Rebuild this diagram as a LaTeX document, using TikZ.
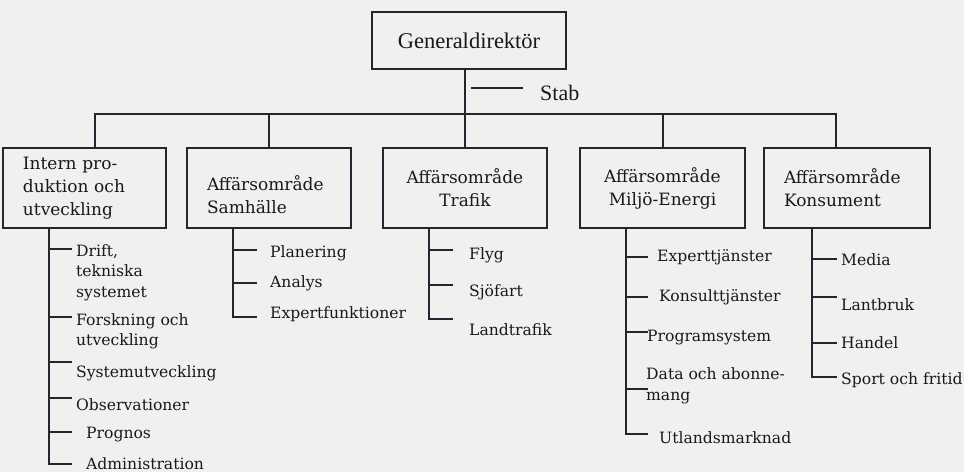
\documentclass[tikz,border=0pt]{standalone}
\usepackage{fontspec}
\setmainfont{DejaVu Serif}
\newfontfamily\genfont{Liberation Serif}
\definecolor{ink}{HTML}{2A2230}
\definecolor{txt}{HTML}{1C161F}
\definecolor{paper}{HTML}{F0F0EE}
\begin{document}
\begin{tikzpicture}[x=1pt,y=-1pt,
  every node/.style={text=txt},
  ln/.style={draw=ink,line width=2pt},
  topbox/.style={draw=ink,line width=2pt,rectangle,minimum width=194pt,minimum height=57pt,inner sep=0pt,font=\genfont\fontsize{22.5}{24}\selectfont},
  unitbox/.style={draw=ink,line width=2pt,rectangle,minimum height=80pt,inner xsep=20pt,inner ysep=0pt,font=\fontsize{17}{23}\selectfont},
  item/.style={anchor=west,inner sep=0pt,align=left,font=\fontsize{15.6}{20.5}\selectfont},
  stabtxt/.style={anchor=west,inner sep=0pt,font=\genfont\fontsize{22}{24}\selectfont}]
\fill[paper] (0,0) rectangle (964,472);
\useasboundingbox (0,0) rectangle (964,472);

% top
\node[topbox] (gen) at (469,40.5) {Generaldirektör};
\node[stabtxt] (stab) at (540,93) {Stab};
\coordinate (stabL) at (471,88);
\coordinate (stabR) at (523,88);
\draw[ln] (stabL) -- (stabR);

% units
\node[unitbox,minimum width=163pt,text width=123pt,align=left] (intern) at (84.5,188) {Intern pro-\\duktion och\\utveckling};
\node[unitbox,minimum width=162pt,text width=124pt,align=left] (samh) at (269,188) {\rule{0pt}{28pt}Affärsområde\\Samhälle};
\node[unitbox,minimum width=162pt,text width=124pt,align=center] (traf) at (465,188) {Affärsområde\\Trafik};
\node[unitbox,minimum width=163pt,text width=125pt,align=center] (milj) at (662.5,188) {Affärsområde\\Miljö-Energi};
\node[unitbox,minimum width=164pt,text width=126pt,align=left] (kons) at (847,188) {Affärsområde\\Konsument};

% bus
\coordinate (busL) at (95,114);
\coordinate (busR) at (836,114);
\draw[ln] (traf.north |- gen.south) -- (traf.north);
\draw[ln] (busL |- intern.north) -- (busL) -- (busR) -- (busR |- kons.north);
\draw[ln] (samh.north |- busL) -- (samh.north);
\draw[ln] (milj.north |- busL) -- (milj.north);

% Intern column
\node[item] (i1) at (76,272.5) {Drift,\\tekniska\\systemet};
\node[item] (i2) at (76,331.5) {Forskning och\\utveckling};
\node[item] (i3) at (76,373) {Systemutveckling};
\node[item] (i4) at (76,405) {Observationer};
\node[item] (i5) at (86,435) {Prognos};
\node[item] (i6) at (86,464) {Administration};
\coordinate (ib1) at (49,249);
\coordinate (ib2) at (49,317);
\coordinate (ib3) at (49,362);
\coordinate (ib4) at (49,398);
\coordinate (ib5) at (49,432);
\coordinate (ib6) at (49,464);
\draw[ln] (ib1 |- intern.south) -- (ib6) -- ++(23,0);
\foreach \c in {ib1,ib2,ib3,ib4,ib5} \draw[ln] (\c) -- ++(23,0);

% Samhalle column
\node[item] (s1) at (270,253) {Planering};
\node[item] (s2) at (270,283) {Analys};
\node[item] (s3) at (270,314) {Expertfunktioner};
\coordinate (sb1) at (233,250);
\coordinate (sb2) at (233,283);
\coordinate (sb3) at (233,317);
\draw[ln] (sb1 |- samh.south) -- (sb3) -- ++(24,0);
\foreach \c in {sb1,sb2} \draw[ln] (\c) -- ++(24,0);

% Trafik column
\node[item] (t1) at (469,255) {Flyg};
\node[item] (t2) at (469,292) {Sjöfart};
\node[item] (t3) at (469,330) {Landtrafik};
\coordinate (tb1) at (429,250);
\coordinate (tb2) at (429,285);
\coordinate (tb3) at (429,319);
\draw[ln] (tb1 |- traf.south) -- (tb3) -- ++(24,0);
\foreach \c in {tb1,tb2} \draw[ln] (\c) -- ++(24,0);

% Miljo column
\node[item] (m1) at (657,257) {Experttjänster};
\node[item] (m2) at (659,297) {Konsulttjänster};
\node[item] (m3) at (647,338) {Programsystem};
\node[item] (m4) at (646,386) {Data och abonne-\\mang};
\node[item] (m5) at (659,438) {Utlandsmarknad};
\coordinate (mb1) at (626,257);
\coordinate (mb2) at (626,297);
\coordinate (mb3) at (626,332);
\coordinate (mb4) at (626,389);
\coordinate (mb5) at (626,434);
\draw[ln] (mb1 |- milj.south) -- (mb5) -- ++(22,0);
\foreach \c in {mb1,mb2,mb3,mb4} \draw[ln] (\c) -- ++(22,0);

% Konsument column
\node[item] (k1) at (841,260) {Media};
\node[item] (k2) at (841,305) {Lantbruk};
\node[item] (k3) at (841,343) {Handel};
\node[item] (k4) at (841,380) {Sport och fritid};
\coordinate (kb1) at (812,259);
\coordinate (kb2) at (812,297);
\coordinate (kb3) at (812,343);
\coordinate (kb4) at (812,377);
\draw[ln] (kb1 |- kons.south) -- (kb4) -- ++(25,0);
\foreach \c in {kb1,kb2,kb3} \draw[ln] (\c) -- ++(25,0);
\end{tikzpicture}
\end{document}
